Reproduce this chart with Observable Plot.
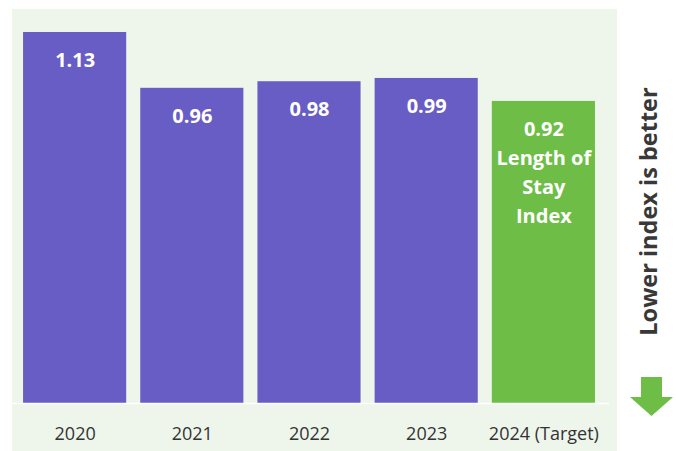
<!DOCTYPE html>
<html>
<head>
<meta charset="utf-8">
<script src="https://cdn.jsdelivr.net/npm/d3@7"></script>
<script src="https://cdn.jsdelivr.net/npm/@observablehq/plot@0.6"></script>
<style>
  html, body { margin: 0; padding: 0; background: #ffffff; }
  #wrap { position: relative; width: 676px; height: 451px; font-family: "Open Sans", sans-serif; }
  #panel { position: absolute; left: 12px; top: 9px; width: 605px; height: 442px; background: #eef6eb; }
  #chart { position: absolute; left: 0; top: 0; }
  #arrow { position: absolute; left: 0; top: 0; }
</style>
</head>
<body>
<div id="wrap">
  <div id="panel"></div>
  <div id="chart"></div>
  <svg id="arrow" width="676" height="451"><polygon points="641,377 662,377 662,397 673,397 651.5,416 630,397 641,397" fill="#6dbd46"/></svg>
</div>
<script>
const years = ["2020", "2021", "2022", "2023", "2024 (Target)"];
const values = [1.13, 0.96, 0.98, 0.99, 0.92];
const kinds = ["Actual", "Actual", "Actual", "Actual", "Target"];
const valueLabels = ["1.13", "0.96", "0.98", "0.99", "0.92\nLength of\nStay\nIndex"];
const sideNote = ["Lower index is better"];

const data = years.map((y, i) => ({year: y, value: values[i], kind: kinds[i], label: valueLabels[i]}));

const chart = Plot.plot({
  width: 676,
  height: 451,
  marginLeft: 9,
  marginRight: 67,
  marginTop: 9,
  marginBottom: 48,
  style: {background: "transparent", fontFamily: "'Open Sans', sans-serif"},
  x: {domain: years, padding: 0.12, round: false, label: null},
  y: {domain: [0, 1.2], axis: null},
  color: {domain: ["Actual", "Target"], range: ["#685cc5", "#6dbd46"]},
  marks: [
    Plot.barY(data, {x: "year", y: "value", fill: "kind"}),
    Plot.ruleY([0], {stroke: "#ffffff", strokeWidth: 1.5}),
    Plot.text(data, {x: "year", y: "value", text: "label", fill: "white", fontSize: 20, fontWeight: "bold", lineAnchor: "top", dy: 14, lineHeight: 1.45}),
    Plot.axisX({tickSize: 0, tickPadding: 24, fontSize: 18, color: "#333333", label: null}),
    Plot.text(sideNote, {frameAnchor: "right", textAnchor: "middle", dx: 40, dy: 5, rotate: -90, fontSize: 23.5, fontWeight: "bold", fill: "#383838"})
  ]
});
document.getElementById("chart").appendChild(chart);
</script>
</body>
</html>
